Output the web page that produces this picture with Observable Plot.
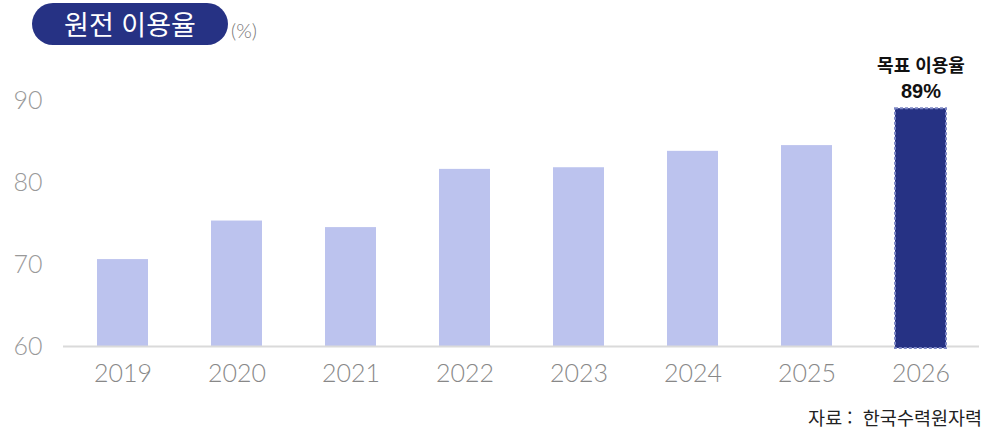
<!DOCTYPE html>
<html lang="ko">
<head>
<meta charset="utf-8">
<script src="https://cdn.jsdelivr.net/npm/d3@7"></script>
<script src="https://cdn.jsdelivr.net/npm/@observablehq/plot@0.6"></script>
<style>
  html, body { margin: 0; padding: 0; background: #fff; }
  body { width: 984px; height: 431px; position: relative; overflow: hidden;
         font-family: "Noto Sans CJK KR", "Noto Sans", sans-serif; }
  #chart { position: absolute; left: 0; top: 0; }
  .pill { position: absolute; left: 32px; top: 3px; width: 196px; height: 42px; border-radius: 21px;
          background: #263284; color: #fff; font-size: 27px; line-height: 42px; text-align: center; font-weight: 400; }
  .unit { position: absolute; left: 231px; top: 18px; font-size: 20px; color: #777; font-family: Lato, sans-serif; font-weight: 300; }
  .caption { position: absolute; right: 2px; top: 404px; font-size: 18.5px; color: #222; white-space: pre; }
</style>
</head>
<body>
<div class="pill">원전 이용율</div>
<div class="unit">(%)</div>
<div id="chart"></div>
<div class="caption">자료 :  한국수력원자력</div>
<script>
const years = ["2019", "2020", "2021", "2022", "2023", "2024", "2025", "2026"];
const rates = [70.6, 75.3, 74.5, 81.6, 81.8, 83.8, 84.5, 89];
const targetYear = "2026";
const yTicks = [60, 70, 80, 90];
const targetTitle = "목표 이용율";
const targetValue = "89%";

const data = years.map((y, i) => ({ year: y, rate: rates[i], target: y === targetYear }));
const past = data.filter(d => !d.target);
const goal = data.filter(d => d.target);

const chart = Plot.plot({
  width: 984,
  height: 395,
  marginTop: 100,
  marginBottom: 49,
  marginLeft: 63,
  marginRight: 5,
  style: { fontFamily: "'Noto Sans CJK KR', 'Noto Sans', sans-serif", background: "transparent", overflow: "visible" },
  x: { domain: years, paddingInner: 0.555, paddingOuter: 0.275, label: null },
  y: { domain: [60, 90], label: null },
  marks: [
    Plot.gridY(yTicks, { stroke: "#cfcfcf", strokeOpacity: 1, strokeDasharray: "5,4", x1: 63, x2: 984 }),
    Plot.axisY(yTicks, { tickSize: 0, tickPadding: 21, fontSize: 25, fill: "#999", fontWeight: 300,
                         fontFamily: "Lato, sans-serif", label: null }),
    Plot.axisX({ tickSize: 0, tickPadding: 18, fontSize: 25, fill: "#888", fontWeight: 300,
                 fontFamily: "Lato, sans-serif", label: null }),
    Plot.barY(past, { x: "year", y1: () => 60, y2: "rate", fill: "#bcc3ee" }),
    Plot.ruleY([60], { stroke: "#dadada", strokeWidth: 2 }),
    Plot.barY(goal, { x: "year", y1: () => 60, y2: "rate", fill: "#263284",
                      stroke: "#7d87c4", strokeWidth: 2, strokeDasharray: "3,2", insetBottom: -2 }),
    Plot.text(goal, { x: "year", y: "rate", text: () => targetTitle, dy: -42,
                      fontSize: 18, fontWeight: 700, fill: "#111" }),
    Plot.text(goal, { x: "year", y: "rate", text: () => targetValue, dy: -17,
                      fontSize: 20, fontWeight: 700, fill: "#111", fontFamily: "'Liberation Sans', Arial, sans-serif" })
  ]
});
document.getElementById("chart").appendChild(chart);
</script>
</body>
</html>
